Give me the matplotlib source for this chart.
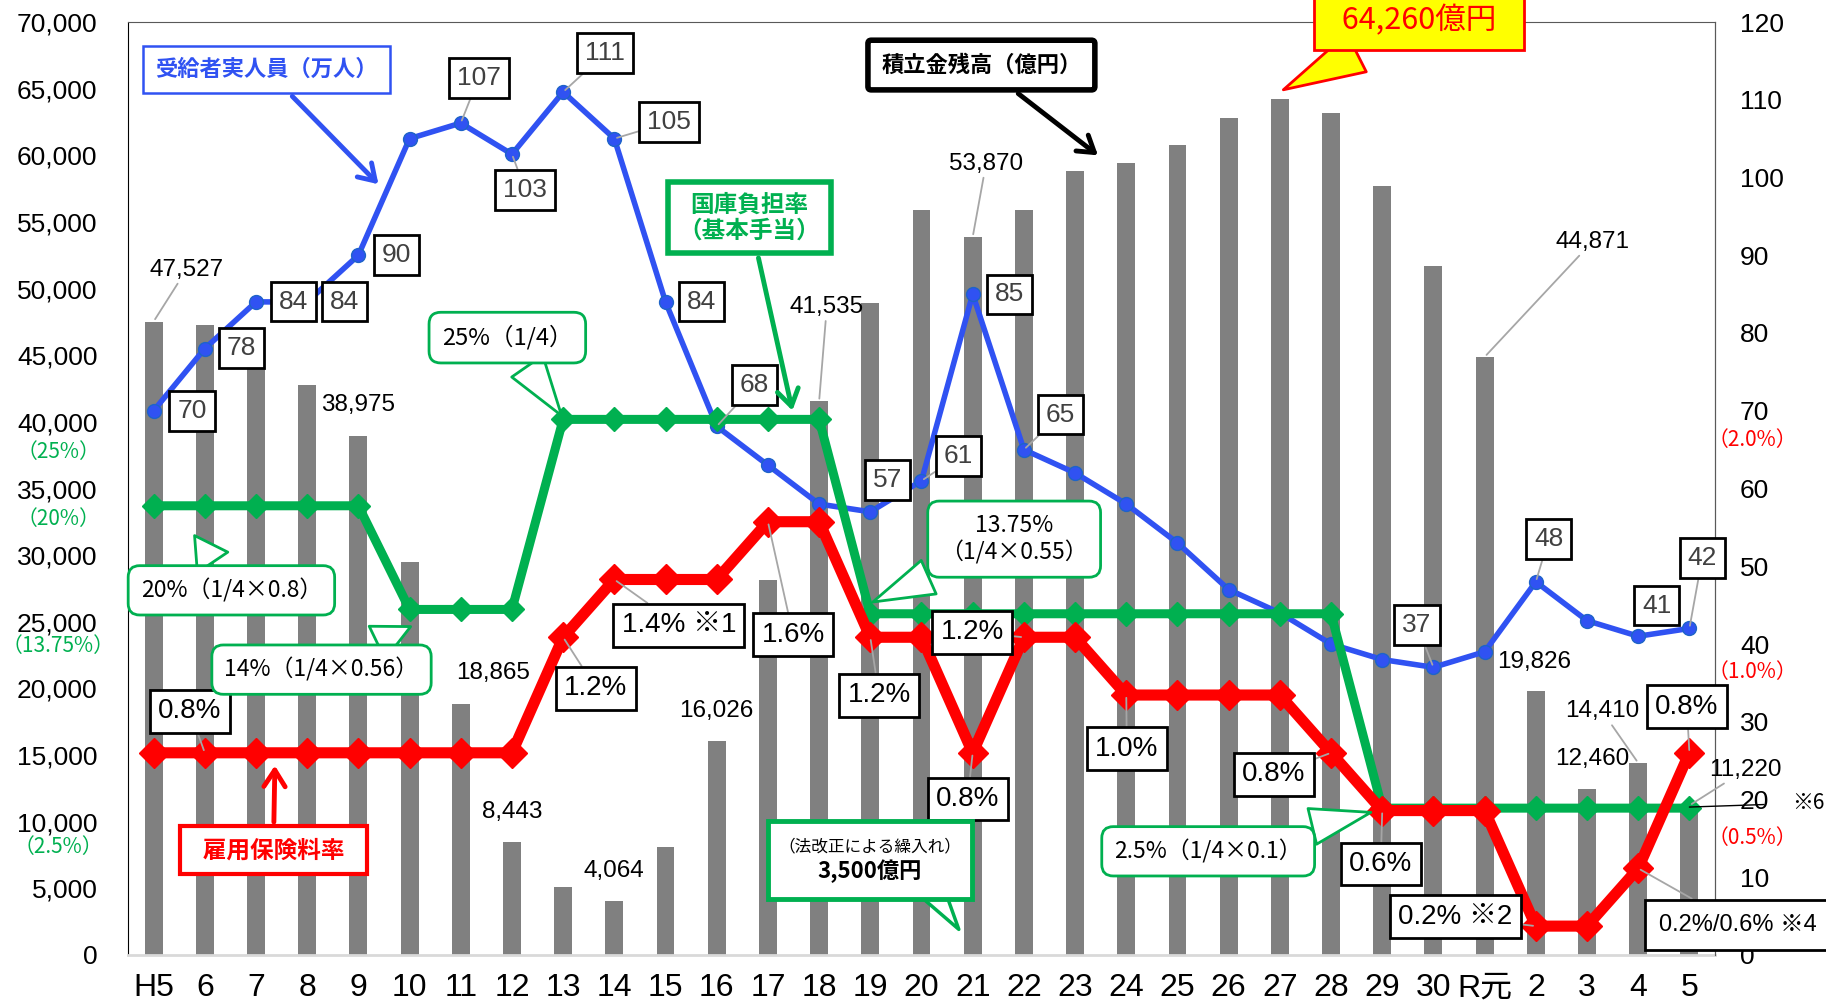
import numpy as np
import matplotlib
matplotlib.use("Agg")
import matplotlib.pyplot as plt
from matplotlib.patches import Rectangle
from matplotlib.ticker import FuncFormatter

# fiscal years (平成5年度 ～ 令和5年度)
years = ["H5", "6", "7", "8", "9", "10", "11", "12", "13", "14", "15", "16", "17", "18", "19", "20",
         "21", "22", "23", "24", "25", "26", "27", "28", "29", "30", "R元", "2", "3", "4", "5"]
# 積立金残高（億円）
reserve = [47527, 47300, 45900, 42800, 38975, 29500, 18865, 8443, 5100, 4064, 8100, 16026,
           28100, 41535, 48900, 55900, 53870, 55900, 58800, 59400, 60800, 62800, 64260, 63200,
           57700, 51700, 44871, 19826, 12460, 14410, 11220]
# 受給者実人員（万人）
recipients = [70, 78, 84, 84, 90, 105, 107, 103, 111, 105, 84, 68, 63, 58, 57, 61, 85, 65, 62, 58,
              53, 47, 44, 40, 38, 37, 39, 48, 43, 41, 42]
# 国庫負担率（%）
subsidy = [20, 20, 20, 20, 20, 14, 14, 14, 25, 25, 25, 25, 25, 25, 13.75, 13.75, 13.75, 13.75,
           13.75, 13.75, 13.75, 13.75, 13.75, 13.75, 2.5, 2.5, 2.5, 2.5, 2.5, 2.5, 2.5]
# 雇用保険料率（%）
premium = [0.8, 0.8, 0.8, 0.8, 0.8, 0.8, 0.8, 0.8, 1.2, 1.4, 1.4, 1.4, 1.6, 1.6, 1.2, 1.2, 0.8,
           1.2, 1.2, 1.0, 1.0, 1.0, 1.0, 0.8, 0.6, 0.6, 0.6, 0.2, 0.2, 0.4, 0.8]

BLUE = "#3052F2"
GREEN = "#00B050"
RED = "#FF0000"
JP = ["Noto Sans CJK JP", "DejaVu Sans"]
SANS = ["Liberation Sans", "Noto Sans CJK JP"]
NARROW = ["Liberation Sans Narrow", "Liberation Sans", "Noto Sans CJK JP"]

W, H = 1826, 1002
fig = plt.figure(figsize=(W / 100, H / 100), dpi=100)
ax = fig.add_axes([128 / W, 1 - 955 / H, (1715 - 128) / W, (955 - 22) / H])
x = np.arange(len(years))

# bars: reserve balance
ax.bar(x, reserve, width=0.35, color="#808080", zorder=1)
ax.set_xlim(-0.5, len(years) - 0.5)
ax.set_ylim(0, 70000)
ax.set_yticks(np.arange(0, 70001, 5000))
ax.yaxis.set_major_formatter(FuncFormatter(lambda v, p: f"{int(v):,}"))
ax.tick_params(axis="y", length=0, pad=22, labelsize=19)
for t in ax.get_yticklabels():
    t.set_family(SANS)
ax.set_xticks(x)
ax.set_xticklabels(years, family=NARROW, fontsize=23)
ax.tick_params(axis="x", length=0, pad=13)
ax.spines["left"].set_color("black")
ax.spines["bottom"].set_color("#D9D9D9")
ax.spines["bottom"].set_linewidth(2)
for s in ["top", "right"]:
    ax.spines[s].set_color("#595959")

# recipients (right axis)
ax2 = ax.twinx()
ax2.set_ylim(0, 120)
ax2.set_yticks(np.arange(0, 121, 10))
ax2.tick_params(axis="y", length=0, pad=18, labelsize=19)
for t in ax2.get_yticklabels():
    t.set_family(SANS)
for s in ["top", "left", "bottom"]:
    ax2.spines[s].set_visible(False)
ax2.spines["right"].set_color("#595959")
ax2.plot(x, recipients, color=BLUE, lw=4, marker="o", ms=10, mfc=BLUE, mec="#1E64C8", mew=1)

# subsidy rate (hidden axis)
ax3 = ax.twinx()
ax3.set_ylim(-6, 48)
ax3.axis("off")
ax3.plot(x, subsidy, color=GREEN, lw=6.5, marker="D", ms=12)

# premium rate (hidden axis)
ax4 = ax.twinx()
ax4.set_ylim(0.1, 3.33)
ax4.axis("off")
ax4.plot(x, premium, color=RED, lw=8, marker="D", ms=15)

# annotation layer, in left-axis units
ax5 = ax.twinx()
ax5.set_ylim(0, 70000)
ax5.axis("off")

lead = dict(arrowstyle="-", color="#A6A6A6", lw=1.3, shrinkA=0, shrinkB=2)

# bar value labels: (index, text x, text y, leader)
bar_labels = [(0, 0.64, 51400, True), (4, 4.0, 41250, False), (6, 6.64, 21150, False),
              (7, 7.0, 10750, False), (9, 9.0, 6300, False), (11, 11.0, 18270, False),
              (13, 13.15, 48600, True), (16, 16.26, 59350, True), (26, 28.1, 53500, True),
              (27, 26.97, 22000, False), (28, 28.11, 14700, False), (29, 28.3, 18270, True),
              (30, 31.1, 13900, True)]
for i, tx, ty, ld in bar_labels:
    ax5.annotate(f"{reserve[i]:,}", xy=(i, reserve[i]), xytext=(tx, ty), ha="center", va="center",
                 fontsize=17.5, family=SANS, arrowprops=lead if ld else None,
                 annotation_clip=False)

# recipients labels
blue_labels = [(0, 0.75, 40820, False), (1, 1.71, 45535, False), (2, 2.73, 49030, False),
               (3, 3.73, 49030, False), (4, 4.75, 52530, False), (6, 6.35, 65810, True),
               (7, 7.26, 57420, True), (8, 8.82, 67650, True), (9, 10.07, 62490, True),
               (10, 10.71, 49030, False), (11, 11.74, 42740, True), (14, 14.33, 35660, False),
               (15, 15.72, 37410, True), (16, 16.72, 49560, False), (17, 17.72, 40550, True),
               (25, 24.68, 24730, True), (27, 27.25, 31200, True), (29, 29.36, 26220, False),
               (30, 30.25, 29800, True)]
for i, tx, ty, ld in blue_labels:
    ax5.annotate(f"{recipients[i]}", xy=(i, recipients[i]), xycoords=ax2.transData,
                 xytext=(tx, ty), textcoords="data", ha="center", va="center", fontsize=19,
                 color="#404040", family=SANS,
                 bbox=dict(boxstyle="square,pad=0.3", fc="white", ec="black", lw=2),
                 arrowprops=lead if ld else None, annotation_clip=False)

# premium labels
red_labels = [(1, "", 0.71, 18270), (8, "", 8.64, 20010), (9, " ※1", 10.26, 24730),
              (12, "", 12.49, 24040), (14, "", 14.17, 19490), (17, "", 15.99, 24210),
              (16, "", 15.90, 11710), (19, "", 19.01, 15470), (23, "", 21.88, 13550),
              (24, "", 23.97, 6820), (27, " ※2", 25.43, 2880), (30, "", 29.95, 18620)]
for i, note, tx, ty in red_labels:
    ax5.annotate(f"{premium[i]:.1f}%{note}", xy=(i, premium[i]), xycoords=ax4.transData,
                 xytext=(tx, ty), textcoords="data", ha="center", va="center", fontsize=20,
                 family=NARROW,
                 bbox=dict(boxstyle="square,pad=0.3", fc="white", ec="black", lw=2),
                 arrowprops=lead, annotation_clip=False)
ax5.annotate("0.2%/0.6% ※4", xy=(29, premium[29]), xycoords=ax4.transData,
             xytext=(30.95, 2270), textcoords="data", ha="center", va="center", fontsize=17,
             family=NARROW, bbox=dict(boxstyle="square,pad=0.6", fc="white", ec="black", lw=2),
             arrowprops=lead, annotation_clip=False)


def callout(text, xy, xytext, fs=16.5, ec=GREEN, fc="white", color="black", tw=1.6, **kw):
    ax5.annotate(text, xy=xy, xytext=xytext, ha="center", va="center", fontsize=fs,
                 family=JP, color=color, multialignment="center",
                 bbox=dict(boxstyle="round,pad=0.55,rounding_size=0.5", fc=fc, ec=ec, lw=2),
                 arrowprops=dict(arrowstyle=f"wedge,tail_width={tw},shrink_factor=0.5",
                                 fc=fc, ec=ec, lw=2),
                 annotation_clip=False, **kw)


callout("25%（1/4）", (8.0, 40300), (6.91, 46320), fs=17)
callout("20%（1/4×0.8）", (0.77, 31640), (1.52, 27360))
callout("14%（1/4×0.56）", (5.07, 24730), (3.28, 21410))
callout("13.75%\n（1/4×0.55）", (14.0, 26400), (16.81, 31200))
callout("2.5%（1/4×0.1）", (23.83, 10750), (20.6, 7780))

# transfer note box (square callout with two text sizes)
ax5.annotate("", xy=(15.76, 1750), xytext=(15.0, 6000),
             arrowprops=dict(arrowstyle="wedge,tail_width=1.2,shrink_factor=0.5",
                             fc="white", ec=GREEN, lw=2.5, mutation_scale=20))
ax5.add_patch(Rectangle((12.01, 4195), 15.98 - 12.01, 10050 - 4195, fc="white", ec=GREEN,
                        lw=3.5, zorder=3))
ax5.text(13.99, 8130, "（法改正による繰入れ）", ha="center", va="center", fontsize=12,
         family=JP, zorder=4)
ax5.text(13.99, 6290, "3,500億円", ha="center", va="center", fontsize=16, family=JP,
         weight="bold", zorder=4)

# yellow callout for the peak
ax5.annotate("  64,260億円  ", xy=(22.02, 64820), xytext=(24.72, 70070), ha="center",
             va="center", fontsize=22, family=JP, color=RED,
             bbox=dict(boxstyle="square,pad=0.45", fc="#FFFF00", ec=RED, lw=2),
             arrowprops=dict(arrowstyle="wedge,tail_width=1.4,shrink_factor=0.5",
                             fc="#FFFF00", ec=RED, lw=2),
             annotation_clip=False)

# series title boxes with arrows
head = "->,head_length=0.7,head_width=0.45"
ax5.annotate("受給者実人員（万人）", xy=(4.43, 57680), xytext=(2.2, 66420), ha="center",
             va="center", fontsize=16, family=JP, color=BLUE, weight="bold",
             bbox=dict(boxstyle="square,pad=0.55", fc="white", ec=BLUE, lw=1.8),
             arrowprops=dict(arrowstyle=head, color=BLUE, lw=3.5))
ax5.annotate("積立金残高（億円）", xy=(18.49, 59870), xytext=(16.17, 66770), ha="center",
             va="center", fontsize=16, family=JP, color="black", weight="bold",
             bbox=dict(boxstyle="round,pad=0.6,rounding_size=0.15", fc="white", ec="black",
                       lw=4),
             arrowprops=dict(arrowstyle=head, color="black", lw=3.5))
ax5.annotate("国庫負担率\n（基本手当）", xy=(12.49, 40640), xytext=(11.64, 55320), ha="center",
             va="center", fontsize=17, family=JP, color=GREEN, weight="bold",
             multialignment="center", linespacing=1.1,
             bbox=dict(boxstyle="square,pad=0.45", fc="white", ec=GREEN, lw=4),
             arrowprops=dict(arrowstyle=head, color=GREEN, lw=3.5))
ax5.annotate("  雇用保険料率  ", xy=(2.37, 14420), xytext=(2.34, 7870), ha="center",
             va="center", fontsize=17, family=JP, color=RED, weight="bold",
             bbox=dict(boxstyle="square,pad=0.5", fc="white", ec=RED, lw=3),
             arrowprops=dict(arrowstyle=head, color=RED, lw=3.5))

# rate notes beside the axes
for txt, yy in [("（25%）", 452), ("（20%）", 519), ("（13.75%）", 646), ("（2.5%）", 847)]:
    fig.text(58 / W, 1 - yy / H, txt, ha="center", va="center", fontsize=15, family=JP,
             color=GREEN)
for txt, yy in [("（2.0%）", 440), ("（1.0%）", 672), ("（0.5%）", 838)]:
    fig.text(1752 / W, 1 - yy / H, txt, ha="center", va="center", fontsize=15, family=JP,
             color=RED)
ax5.annotate("※6", xy=(30, 11100), xytext=(32.0, 11400), ha="left", va="center", fontsize=15,
             family=JP, arrowprops=dict(arrowstyle="-", color="black", lw=1, shrinkA=18,
                                        shrinkB=0),
             annotation_clip=False)

fig.savefig("out.png", dpi=100)
